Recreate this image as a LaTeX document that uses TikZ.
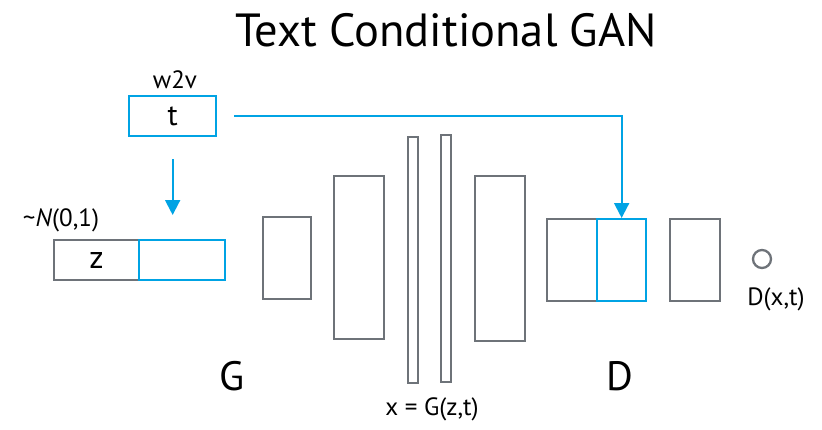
\documentclass[tikz,border=0pt]{standalone}
\usepackage{fontspec}
\setmainfont{PT Sans}
\usetikzlibrary{arrows.meta}
\definecolor{gbox}{RGB}{110,115,121}
\definecolor{bbox}{RGB}{0,163,228}
\begin{document}
\begin{tikzpicture}[x=1pt,y=-1pt,
  box/.style={draw=gbox,line width=2.3pt,inner sep=0pt,anchor=north west},
  bluebox/.style={draw=bbox,line width=2.3pt,inner sep=0pt,anchor=north west},
  conn/.style={draw=bbox,line width=2pt,-{Triangle[width=15pt,length=15pt]}},
  lbl/.style={inner sep=0pt,font=\fontsize{25}{27}\selectfont}]
\useasboundingbox (0,0) rectangle (822,429);
\node[inner sep=0pt,font=\fontsize{46.5}{50}\selectfont] (title) at (446,30) {Text Conditional GAN};
% text input
\node[bluebox,minimum width=87pt,minimum height=40pt,font=\fontsize{30}{32}\selectfont] (t) at (128,95) {t};
\node[lbl,anchor=south] (w2v) at (175,89) {w2v};
% noise
\node[box,minimum width=85pt,minimum height=40pt,font=\fontsize{32}{34}\selectfont] (z) at (53,239) {z};
\node[bluebox,minimum width=86pt,minimum height=40pt] (zt) at (138,239) {};
\node[lbl] (nlab) at (61,220) {\textasciitilde\textit{N}(0,1)};
% generator
\node[box,minimum width=48pt,minimum height=82pt] (g1) at (262,216) {};
\node[box,minimum width=50pt,minimum height=163pt] (g2) at (333,175) {};
\node[box,minimum width=10pt,minimum height=246pt] (x1) at (407,136) {};
\node[box,minimum width=10pt,minimum height=247pt] (x2) at (440,134) {};
\node[box,minimum width=50pt,minimum height=165pt] (d0) at (474,175) {};
% discriminator
\node[box,minimum width=50pt,minimum height=82pt] (d1) at (546,218) {};
\node[bluebox,minimum width=49pt,minimum height=82pt] (d2) at (596,218) {};
\node[box,minimum width=50pt,minimum height=82pt] (d3) at (669,218) {};
\node[draw=gbox,line width=2.3pt,circle,minimum size=18pt,inner sep=0pt] (out) at (762,259) {};
\node[lbl] (dlab) at (776,299) {D(x,t)};
% labels
\node[inner sep=0pt,font=\fontsize{41}{44}\selectfont] (G) at (232,376) {G};
\node[inner sep=0pt,font=\fontsize{41}{44}\selectfont] (D) at (620,376) {D};
\node[lbl] (xlab) at (432,409) {x = G(z,t)};
% connectors
\draw[conn,shorten <=22pt,shorten >=24pt] (t.south) -- (t.south |- zt.north);
\draw[conn,shorten <=17pt] (t.east) -| (d2.north);
\end{tikzpicture}
\end{document}
